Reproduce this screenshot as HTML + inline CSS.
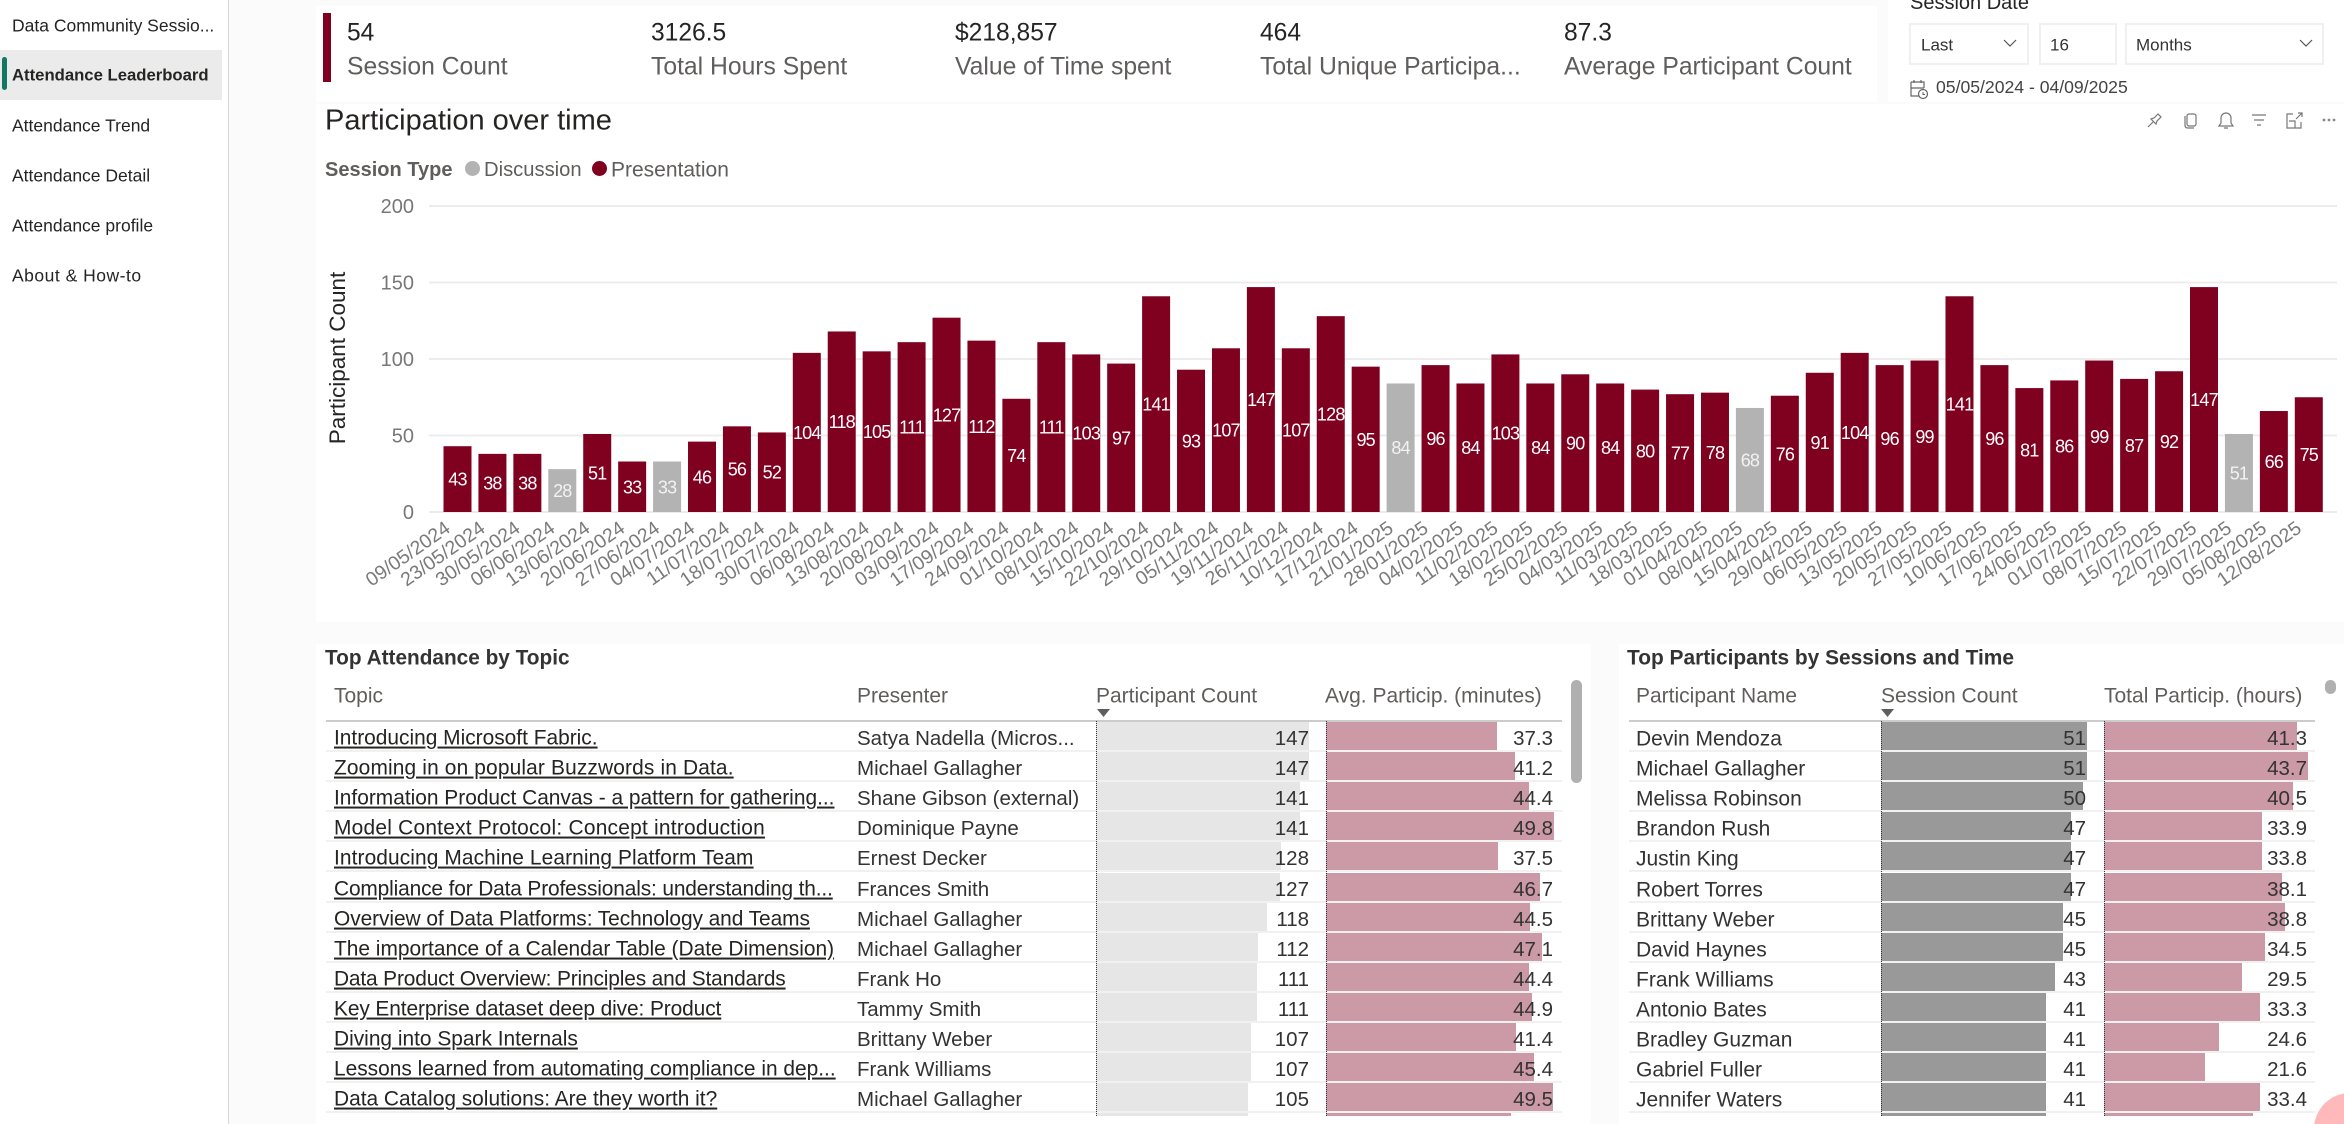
<!DOCTYPE html>
<html lang="en">
<head>
<meta charset="utf-8">
<title>Attendance Leaderboard</title>
<style>
html,body{margin:0;padding:0;background:#fbfbfb;width:2344px;height:1124px;overflow:hidden;}
body{position:relative;font-family:"Liberation Sans",sans-serif;color:#252423;}
.p{position:absolute;background:#fff;}
.t{position:absolute;white-space:nowrap;transform:translateY(-50%);line-height:1;}
.nav{left:12px;font-size:17.5px;color:#252423;}
.kv{font-size:24.6px;color:#252423;top:34px;}
.kl{font-size:24.7px;color:#605e5c;top:68px;}
.h{font-size:21px;color:#605e5c;top:696px;}
.row{position:absolute;left:0;width:2344px;height:30.1px;}
.sep{position:absolute;height:2px;background:#f1f1f1;bottom:-1px;}
.c{position:absolute;white-space:nowrap;top:18px;transform:translateY(-50%);line-height:1;font-size:20.5px;color:#333;}
.topic{left:334px;text-decoration:underline;color:#252423;font-size:20.9px;}
.pres{left:857px;}
.pname{left:1636px;font-size:21px;}
.dd{position:absolute;top:23px;height:38px;border:2px solid #f0f0f0;background:#fff;}
.vl{position:absolute;top:721px;height:395px;width:0;border-left:1.5px dotted #333;}
</style>
</head>
<body>

<div class="p" style="left:0;top:0;width:228px;height:1124px;border-right:1px solid #d6d6d6"></div>
<div class="t nav" style="top:26px">Data Community Sessio...</div>
<div class="p" style="left:0;top:50px;width:222px;height:50px;background:#ebebeb"></div>
<div class="p" style="left:2px;top:57px;width:5px;height:33px;background:#117865;border-radius:3px"></div>
<div class="t nav" style="top:76px;font-weight:bold;font-size:16.7px">Attendance Leaderboard</div>
<div class="t nav" style="top:126px">Attendance Trend</div>
<div class="t nav" style="top:176px">Attendance Detail</div>
<div class="t nav" style="top:226px">Attendance profile</div>
<div class="t nav" style="top:276px;letter-spacing:.5px">About &amp; How-to</div>

<div class="p" style="left:316px;top:6px;width:1561px;height:96px"></div>
<div class="p" style="left:323px;top:13px;width:8px;height:69px;background:#800020"></div>
<div class="t kv" style="left:347px">54</div>
<div class="t kl" style="left:347px">Session Count</div>
<div class="t kv" style="left:651px">3126.5</div>
<div class="t kl" style="left:651px">Total Hours Spent</div>
<div class="t kv" style="left:955px">$218,857</div>
<div class="t kl" style="left:955px">Value of Time spent</div>
<div class="t kv" style="left:1260px">464</div>
<div class="t kl" style="left:1260px">Total Unique Participa...</div>
<div class="t kv" style="left:1564px">87.3</div>
<div class="t kl" style="left:1564px">Average Participant Count</div>

<div class="p" style="left:1888px;top:0;width:456px;height:102px"></div>
<div class="t" style="left:1910px;top:3px;font-size:20px;color:#252423">Session Date</div>
<div class="dd" style="left:1909px;width:116px"></div>
<div class="t" style="left:1921px;top:45px;font-size:17px;color:#333">Last</div>
<svg style="position:absolute;left:2003px;top:38px" width="14" height="10"><path d="M1 2l6 6 6-6" fill="none" stroke="#555" stroke-width="1.2"/></svg>
<div class="dd" style="left:2039px;width:74px"></div>
<div class="t" style="left:2050px;top:45px;font-size:17px;color:#333">16</div>
<div class="dd" style="left:2125px;width:195px"></div>
<div class="t" style="left:2136px;top:45px;font-size:17px;color:#333">Months</div>
<svg style="position:absolute;left:2299px;top:38px" width="14" height="10"><path d="M1 2l6 6 6-6" fill="none" stroke="#555" stroke-width="1.2"/></svg>
<div class="p" style="left:316px;top:104px;width:2028px;height:518px"></div>
<svg style="position:absolute;left:1909px;top:79px" width="20" height="21"><path d="M2 9h13M2 3h13v6M2 3v14h8M5 1v3M12 1v3" fill="none" stroke="#666" stroke-width="1.2"/><circle cx="14" cy="15" r="4.500" fill="#fff" stroke="#666" stroke-width="1.2"/><path d="M14 13v2.500h2" fill="none" stroke="#666"/></svg>
<div class="t" style="left:1936px;top:88px;font-size:17.6px;color:#444">05/05/2024 - 04/09/2025</div>

<div class="t" style="left:325px;top:121px;font-size:29px;color:#252423">Participation over time</div>
<svg style="position:absolute;left:2143px;top:108px" width="199" height="24" viewBox="0 0 199 24">
<g fill="none" stroke="#777" stroke-width="1.2">
<g><path d="M15 6l-4 4-3 1 5 5 1-3 4-4zM10 14l-5 5"/></g>
<g><rect x="44" y="6" width="9" height="12" rx="2"/><path d="M42 8v9q0 3 3 3h6"/></g>
<g><path d="M76 18h14l-2-3v-5a5 5 0 0 0-10 0v5zM81 20h4"/></g>
<g><path d="M109 7h14M111 12h10M114 17h4"/></g>
<g><path d="M150 6h-6v14h14v-6M146 13h6v7M153 11l6-6M155 5h4v4"/></g>
</g>
<g fill="#888"><circle cx="181" cy="12" r="1.400"/><circle cx="186" cy="12" r="1.400"/><circle cx="191" cy="12" r="1.400"/></g>
</svg>
<div class="t" style="left:325px;top:170px;font-size:20px;font-weight:bold;color:#605e5c">Session Type</div>
<div class="p" style="left:465px;top:161px;width:15px;height:15px;border-radius:50%;background:#b3b3b3"></div>
<div class="t" style="left:484px;top:170px;font-size:20.2px;color:#605e5c">Discussion</div>
<div class="p" style="left:592px;top:161px;width:15px;height:15px;border-radius:50%;background:#800020"></div>
<div class="t" style="left:611px;top:170px;font-size:21px;color:#605e5c">Presentation</div>

<svg id="chart" style="position:absolute;left:0;top:0" width="2344" height="640"></svg>

<div class="p" style="left:316px;top:644px;width:1275px;height:480px"></div>
<div class="t" style="left:325px;top:659px;font-size:20.8px;font-weight:bold;color:#333">Top Attendance by Topic</div>
<div class="t h" style="left:334px">Topic</div>
<div class="t h" style="left:857px">Presenter</div>
<div class="t h" style="left:1096px">Participant Count</div>
<div class="t h" style="left:1325px">Avg. Particip. (minutes)</div>
<div class="p" style="left:326px;top:720px;width:1236px;height:2px;background:#ccc"></div>
<svg style="position:absolute;left:1097px;top:709px" width="14" height="9"><path d="M0 0h13l-6.500 8z" fill="#605e5c"/></svg>

<div id="topic-table" style="position:absolute;left:0;top:0;width:2344px;height:1116px;overflow:hidden">
<div class="row" style="top:721px"><div class="c topic">Introducing Microsoft Fabric.</div><div class="c pres">Satya Nadella (Micros...</div></div>
<div class="row" style="top:751.1px"><div class="c topic" style="letter-spacing:.15px">Zooming in on popular Buzzwords in Data.</div><div class="c pres">Michael Gallagher</div></div>
<div class="row" style="top:781.2px"><div class="c topic">Information Product Canvas - a pattern for gathering...</div><div class="c pres">Shane Gibson (external)</div></div>
<div class="row" style="top:811.3px"><div class="c topic" style="letter-spacing:.24px">Model Context Protocol: Concept introduction</div><div class="c pres">Dominique Payne</div></div>
<div class="row" style="top:841.4px"><div class="c topic" style="letter-spacing:.1px">Introducing Machine Learning Platform Team</div><div class="c pres">Ernest Decker</div></div>
<div class="row" style="top:871.5px"><div class="c topic" style="letter-spacing:-.14px">Compliance for Data Professionals: understanding th...</div><div class="c pres">Frances Smith</div></div>
<div class="row" style="top:901.6px"><div class="c topic" style="letter-spacing:-.06px">Overview of Data Platforms: Technology and Teams</div><div class="c pres">Michael Gallagher</div></div>
<div class="row" style="top:931.7px"><div class="c topic">The importance of a Calendar Table (Date Dimension)</div><div class="c pres">Michael Gallagher</div></div>
<div class="row" style="top:961.8px"><div class="c topic" style="letter-spacing:-.15px">Data Product Overview: Principles and Standards</div><div class="c pres">Frank Ho</div></div>
<div class="row" style="top:991.9px"><div class="c topic" style="letter-spacing:-.1px">Key Enterprise dataset deep dive: Product</div><div class="c pres">Tammy Smith</div></div>
<div class="row" style="top:1022px"><div class="c topic">Diving into Spark Internals</div><div class="c pres">Brittany Weber</div></div>
<div class="row" style="top:1052.1px"><div class="c topic">Lessons learned from automating compliance in dep...</div><div class="c pres">Frank Williams</div></div>
<div class="row" style="top:1082.2px"><div class="c topic">Data Catalog solutions: Are they worth it?</div><div class="c pres">Michael Gallagher</div></div>
<div class="row" style="top:1112.3px"></div>
<div class="vl" style="left:1096px"></div>
<div class="vl" style="left:1325.500px"></div>
</div>
<div class="p" style="left:1571px;top:680px;width:11px;height:103px;border-radius:6px;background:#b0b0b0"></div>

<div class="p" style="left:1619px;top:644px;width:725px;height:480px"></div>
<div class="t" style="left:1627px;top:659px;font-size:20.9px;font-weight:bold;color:#333">Top Participants by Sessions and Time</div>
<div class="t h" style="left:1636px">Participant Name</div>
<div class="t h" style="left:1881px">Session Count</div>
<div class="t h" style="left:2104px">Total Particip. (hours)</div>
<div class="p" style="left:1629px;top:720px;width:686px;height:2px;background:#ccc"></div>
<svg style="position:absolute;left:1881px;top:709px" width="14" height="9"><path d="M0 0h13l-6.500 8z" fill="#605e5c"/></svg>

<div id="participant-table" style="position:absolute;left:0;top:0;width:2344px;height:1116px;overflow:hidden">
<div class="row" style="top:721px"><div class="c pname">Devin Mendoza</div></div>
<div class="row" style="top:751.1px"><div class="c pname">Michael Gallagher</div></div>
<div class="row" style="top:781.2px"><div class="c pname">Melissa Robinson</div></div>
<div class="row" style="top:811.3px"><div class="c pname">Brandon Rush</div></div>
<div class="row" style="top:841.4px"><div class="c pname">Justin King</div></div>
<div class="row" style="top:871.5px"><div class="c pname">Robert Torres</div></div>
<div class="row" style="top:901.6px"><div class="c pname">Brittany Weber</div></div>
<div class="row" style="top:931.7px"><div class="c pname">David Haynes</div></div>
<div class="row" style="top:961.8px"><div class="c pname">Frank Williams</div></div>
<div class="row" style="top:991.9px"><div class="c pname">Antonio Bates</div></div>
<div class="row" style="top:1022px"><div class="c pname">Bradley Guzman</div></div>
<div class="row" style="top:1052.1px"><div class="c pname">Gabriel Fuller</div></div>
<div class="row" style="top:1082.2px"><div class="c pname">Jennifer Waters</div></div>
<div class="row" style="top:1112.3px"></div>
<div class="vl" style="left:1881px"></div>
<div class="vl" style="left:2103.500px"></div>
</div>
<div class="p" style="left:2325px;top:680px;width:11px;height:14px;border-radius:6px;background:#b0b0b0"></div>
<div style="position:absolute;left:2314px;top:1093px;width:30px;height:31px;overflow:hidden"><div style="position:absolute;left:0;top:0;width:72px;height:72px;border-radius:50%;background:#ffb9bb"></div></div>

<script>
var sessionDates = ["09/05/2024","23/05/2024","30/05/2024","06/06/2024","13/06/2024","20/06/2024","27/06/2024","04/07/2024","11/07/2024","18/07/2024","30/07/2024","06/08/2024","13/08/2024","20/08/2024","03/09/2024","17/09/2024","24/09/2024","01/10/2024","08/10/2024","15/10/2024","22/10/2024","29/10/2024","05/11/2024","19/11/2024","26/11/2024","10/12/2024","17/12/2024","21/01/2025","28/01/2025","04/02/2025","11/02/2025","18/02/2025","25/02/2025","04/03/2025","11/03/2025","18/03/2025","01/04/2025","08/04/2025","15/04/2025","29/04/2025","06/05/2025","13/05/2025","20/05/2025","27/05/2025","10/06/2025","17/06/2025","24/06/2025","01/07/2025","08/07/2025","15/07/2025","22/07/2025","29/07/2025","05/08/2025","12/08/2025"];
var participantCounts = [43,38,38,28,51,33,33,46,56,52,104,118,105,111,127,112,74,111,103,97,141,93,107,147,107,128,95,84,96,84,103,84,90,84,80,77,78,68,76,91,104,96,99,141,96,81,86,99,87,92,147,51,66,75];
var sessionTypes = ["P","P","P","D","P","P","D","P","P","P","P","P","P","P","P","P","P","P","P","P","P","P","P","P","P","P","P","D","P","P","P","P","P","P","P","P","P","D","P","P","P","P","P","P","P","P","P","P","P","P","P","D","P","P"];
var yTicks = [0,50,100,150,200];
var topicCounts = [147,147,141,141,128,127,118,112,111,111,107,107,105,105];
var topicAvgMinutes = [37.3,41.2,44.4,49.8,37.5,46.7,44.5,47.1,44.4,44.9,41.4,45.4,49.5,40.4];
var participantSessions = [51,51,50,47,47,47,45,45,43,41,41,41,41,41];
var participantHours = [41.3,43.7,40.5,33.9,33.8,38.1,38.8,34.5,29.5,33.3,24.6,21.6,33.4,32];

var SVG_NS = "http://www.w3.org/2000/svg";
var chart = document.getElementById("chart");
function xPos(i){ return 443.5 + 34.93 * i; }
function yPos(v){ return 512 - v * 1.53; }
var barW = 28;

function svgEl(tag, parent){
  var el = document.createElementNS(SVG_NS, tag);
  parent.appendChild(el);
  return el;
}
yTicks.forEach(function(t){
  var line = svgEl("line", chart);
  
  
  line.setAttribute("x1", 429);
  line.setAttribute("x2", 2337);
  line.setAttribute("y1", yPos(t));
  line.setAttribute("y2", yPos(t));
  line.setAttribute("stroke", "#ececec");
  line.setAttribute("stroke-width", 2);
  var lab = svgEl("text", chart);
  
  
  lab.setAttribute("x", 414);
  lab.setAttribute("y", yPos(t) + 7);
  lab.setAttribute("text-anchor", "end");
  lab.setAttribute("font-size", "20");
  lab.setAttribute("fill", "#777");
  lab.textContent = t;
});
var yTitle = svgEl("text", chart);


yTitle.setAttribute("transform", "translate(345,358) rotate(-90)");
yTitle.setAttribute("text-anchor", "middle");
yTitle.setAttribute("font-size", "22.5");
yTitle.setAttribute("fill", "#252423");
yTitle.textContent = "Participant Count";

participantCounts.forEach(function(v, i){
  var isDiscussion = sessionTypes[i] === "D";
  var r = svgEl("rect", chart);
  
  
  r.setAttribute("x", xPos(i));
  r.setAttribute("y", yPos(v));
  r.setAttribute("width", barW);
  r.setAttribute("height", yPos(0) - yPos(v));
  r.setAttribute("fill", isDiscussion ? "#b3b3b3" : "#800020");
  var lab = svgEl("text", chart);
  
  
  lab.setAttribute("x", xPos(i) + barW / 2);
  lab.setAttribute("y", (yPos(v) + yPos(0)) / 2 + 6.5);
  lab.setAttribute("text-anchor", "middle");
  lab.setAttribute("font-size", "18");
  lab.setAttribute("letter-spacing", "-0.8");
  lab.setAttribute("fill", isDiscussion ? "#f2f2f2" : "#fff");
  lab.textContent = v;
  var tick = svgEl("text", chart);
  var tx = xPos(i) + 8;
  var ty = 531;
  
  
  tick.setAttribute("x", tx);
  tick.setAttribute("y", ty);
  tick.setAttribute("text-anchor", "end");
  tick.setAttribute("font-size", "19.5");
  tick.setAttribute("fill", "#7a7a7a");
  tick.setAttribute("transform", "rotate(-35 " + tx + " " + ty + ")");
  tick.textContent = sessionDates[i];
});

function countBarPx(v){ return v * 1.449; }
function avgBarPx(v){ return v * 4.578; }
function sessionBarPx(v){ return v * 4.035; }
function hoursBarPx(v){ return v * 4.67; }

function addCell(row, left, width, color, rightEdge, value, barName, valueName){
  var b = document.createElement("div");
  
  
  b.style.cssText = "position:absolute;top:1px;height:28.5px;left:" + left + "px;width:" + width + "px;background:" + color;
  row.insertBefore(b, row.firstChild);
  if (value === null) return;
  var n = document.createElement("div");
  n.className = "c";
  
  
  n.style.right = (2344 - rightEdge) + "px";
  n.textContent = value;
  row.appendChild(n);
}
function addSeparator(row, left, width){
  var s = document.createElement("div");
  s.className = "sep";
  
  
  s.style.left = left + "px";
  s.style.width = width + "px";
  row.insertBefore(s, row.firstChild);
}
var topicRows = document.querySelectorAll("#topic-table .row");
topicCounts.forEach(function(v, i){
  addSeparator(topicRows[i], 326, 1236);
  addCell(topicRows[i], 1096, countBarPx(v), "#e6e6e6", 1309, i < 13 ? v : null, "participant-count-bar", "participant-count-value");
  addCell(topicRows[i], 1326, avgBarPx(topicAvgMinutes[i]), "#cc99a6", 1553, i < 13 ? topicAvgMinutes[i].toFixed(1) : null, "avg-participation-bar", "avg-participation-value");
});
var participantRows = document.querySelectorAll("#participant-table .row");
participantSessions.forEach(function(v, i){
  addSeparator(participantRows[i], 1629, 686);
  addCell(participantRows[i], 1881, sessionBarPx(v), "#999999", 2086, i < 13 ? v : null, "session-count-bar", "session-count-value");
  addCell(participantRows[i], 2104, hoursBarPx(participantHours[i]), "#cc99a6", 2307, i < 13 ? participantHours[i].toFixed(1) : null, "total-participation-bar", "total-participation-value");
});
</script>
</body>
</html>
